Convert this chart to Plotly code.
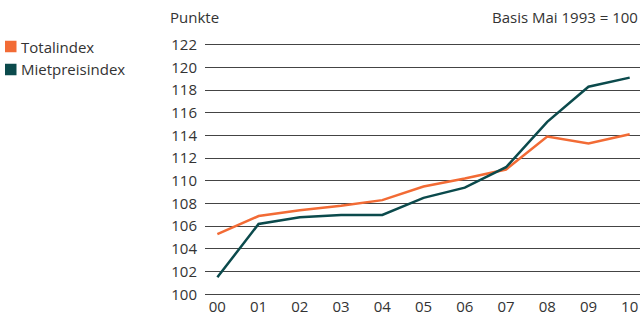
import plotly.graph_objects as go

years = ["00", "01", "02", "03", "04", "05", "06", "07", "08", "09", "10"]
totalindex = [105.3, 106.9, 107.4, 107.8, 108.3, 109.5, 110.2, 111.0, 113.9, 113.3, 114.1]
mietpreisindex = [101.5, 106.2, 106.8, 107.0, 107.0, 108.5, 109.4, 111.2, 115.2, 118.3, 119.1]
y_ticks = list(range(100, 123, 2))

ORANGE = "#F26B35"
TEAL = "#0B4A4C"
FONT = "Open Sans"
TXT = "#333333"
FS = 15

W, H = 643, 316
L, R, T, B = 205, 3, 43, 20
PW = W - L - R
PH = H - T - B

def px(x):
    return (x - L) / PW

def py(y):
    return (H - B - y) / PH

x_idx = list(range(len(years)))

fig = go.Figure()
fig.add_trace(go.Scatter(x=x_idx, y=totalindex, mode="lines", name="Totalindex",
                         line=dict(color=ORANGE, width=2.5), showlegend=False))
fig.add_trace(go.Scatter(x=x_idx, y=mietpreisindex, mode="lines", name="Mietpreisindex",
                         line=dict(color=TEAL, width=2.5), showlegend=False))

# legend drawn manually
legend = [("Totalindex", ORANGE, 46.5), ("Mietpreisindex", TEAL, 69.5)]
for name, col, ypix in legend:
    fig.add_shape(type="rect", xref="paper", yref="paper",
                  x0=px(5), x1=px(16.5), y0=py(ypix + 5.75), y1=py(ypix - 5.75),
                  fillcolor=col, line=dict(width=0))
    fig.add_annotation(text=name, xref="paper", yref="paper", x=px(19),
                       y=py(ypix), xanchor="left", yanchor="middle",
                       showarrow=False, font=dict(family=FONT, size=FS, color=TXT))

fig.add_annotation(text="Punkte", xref="paper", yref="paper", x=px(168),
                   y=py(17.5), xanchor="left", yanchor="middle",
                   showarrow=False, font=dict(family=FONT, size=FS, color=TXT))
fig.add_annotation(text="Basis Mai 1993 = 100", xref="paper", yref="paper", x=px(640),
                   y=py(17), xanchor="right", yanchor="middle",
                   showarrow=False, font=dict(family=FONT, size=FS, color=TXT))

fig.update_layout(
    width=W, height=H,
    margin=dict(l=L, r=R, t=T, b=B, autoexpand=False),
    paper_bgcolor="white", plot_bgcolor="white",
    font=dict(family=FONT, size=FS, color=TXT),
    xaxis=dict(range=[-0.3, 10.25], tickmode="array", tickvals=x_idx, ticktext=years,
               showgrid=False, zeroline=False, showline=False, ticks="",
               ticklabelstandoff=0, automargin=False, fixedrange=True),
    yaxis=dict(range=[99.85, 122.15], tickmode="array", tickvals=y_ticks,
               ticktext=[str(v) for v in y_ticks],
               showgrid=True, gridcolor="#444444", gridwidth=1, zeroline=False,
               showline=False, ticks="", ticklabelstandoff=7, automargin=False,
               fixedrange=True),
)

fig.write_html("out.html", config={"displayModeBar": False},
               post_script="document.body.style.margin='0';document.body.style.overflow='hidden';")
